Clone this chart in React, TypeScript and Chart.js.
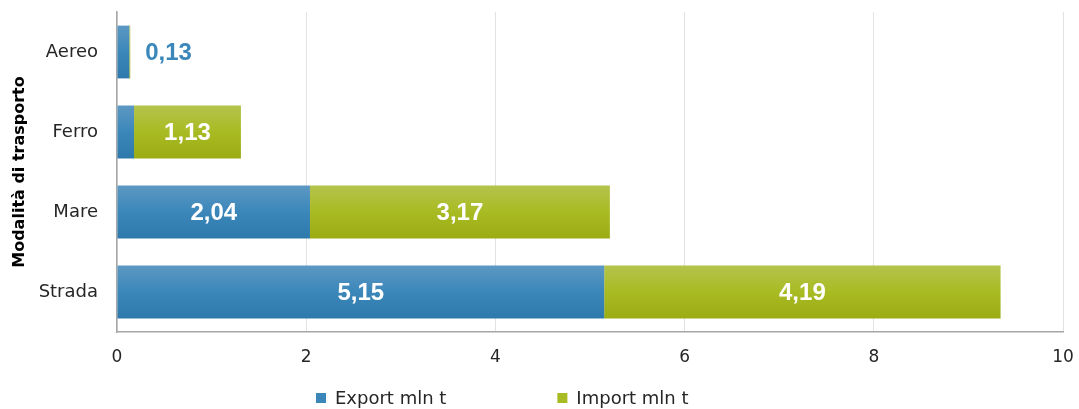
import React, { useEffect, useRef } from "react";
import { Chart, registerables } from "chart.js";

Chart.register(...registerables);

const categories = ["Aereo", "Ferro", "Mare", "Strada"];
const exportValues = [0.13, 0.18, 2.04, 5.15];
const importValues = [0.01, 1.13, 3.17, 4.19];
const seriesLabels = ["Export mln t", "Import mln t"];
const xTicks = [0, 2, 4, 6, 8, 10];
// which labels to show: inside (white) or outside (blue)
const exportLabelMode = ["outside", "none", "inside", "inside"];
const importLabelMode = ["none", "inside", "inside", "inside"];

const FONT = "'DejaVu Sans', sans-serif";
const LABEL_FONT = "'Liberation Sans', Arial, sans-serif";
const blueStops = ["#5c98c3", "#3b87ba", "#2e79ac"];
const greenStops = ["#b4c34c", "#a9bb23", "#9aab14"];
const blueSolid = "#3b87ba";
const greenSolid = "#a9bb23";

const fmt = (v: number) => v.toFixed(2).replace(".", ",");

function gradientFor(stops: string[]) {
  return (ctx: any) => {
    const chart = ctx.chart;
    const y = chart.scales?.y;
    if (!y || ctx.dataIndex === undefined) return stops[1];
    const center = y.getPixelForValue(ctx.dataIndex);
    const half = (y.height / categories.length) * 0.66 / 2;
    if (!isFinite(center) || !isFinite(half) || half <= 0) return stops[1];
    const g = chart.ctx.createLinearGradient(0, center - half, 0, center + half);
    g.addColorStop(0, stops[0]);
    g.addColorStop(0.5, stops[1]);
    g.addColorStop(1, stops[2]);
    return g;
  };
}

const labelPlugin = {
  id: "barLabels",
  afterDatasetsDraw(chart: any) {
    const ctx = chart.ctx;
    const modes = [exportLabelMode, importLabelMode];
    ctx.save();
    ctx.font = `bold 24px ${LABEL_FONT}`;
    ctx.textBaseline = "middle";
    chart.data.datasets.forEach((ds: any, di: number) => {
      const meta = chart.getDatasetMeta(di);
      meta.data.forEach((el: any, i: number) => {
        const mode = modes[di][i];
        const v = ds.data[i];
        if (mode === "inside") {
          ctx.fillStyle = "#ffffff";
          ctx.textAlign = "center";
          ctx.fillText(fmt(v), (el.x + el.base) / 2, el.y + 1);
        } else if (mode === "outside") {
          const meta2 = chart.getDatasetMeta(chart.data.datasets.length - 1);
          const endX = Math.max(el.x, meta2.data[i].x);
          ctx.fillStyle = "#3b87ba";
          ctx.textAlign = "left";
          ctx.fillText(fmt(v), endX + 15, el.y + 1);
        }
      });
    });
    ctx.restore();
  },
};

const legendPlugin = {
  id: "customLegend",
  afterDraw(chart: any) {
    const ctx = chart.ctx;
    ctx.save();
    ctx.font = `18px ${FONT}`;
    ctx.textBaseline = "middle";
    ctx.textAlign = "left";
    const colors = [blueSolid, greenSolid];
    const box = 10;
    const gap = 9;
    const spacing = 111;
    const widths = seriesLabels.map((t) => box + gap + ctx.measureText(t).width);
    const total = widths[0] + spacing + widths[1];
    let x = 316;
    const y = chart.height - 11;
    seriesLabels.forEach((t, i) => {
      ctx.fillStyle = colors[i];
      ctx.fillRect(x, y - box / 2, box, box);
      ctx.fillStyle = "#262626";
      ctx.fillText(t, x + box + gap, y + 1);
      x += widths[i] + spacing;
    });
    ctx.restore();
  },
};

export default function App() {
  const canvasRef = useRef<HTMLCanvasElement | null>(null);

  useEffect(() => {
    if (!canvasRef.current) return;
    const chart = new Chart(canvasRef.current, {
      type: "bar",
      data: {
        labels: categories,
        datasets: [
          {
            label: seriesLabels[0],
            data: exportValues,
            backgroundColor: gradientFor(blueStops),
            borderWidth: 0,
            categoryPercentage: 1,
            barPercentage: 0.66,
          },
          {
            label: seriesLabels[1],
            data: importValues,
            backgroundColor: gradientFor(greenStops),
            borderWidth: 0,
            categoryPercentage: 1,
            barPercentage: 0.66,
          },
        ],
      },
      options: {
        indexAxis: "y",
        responsive: true,
        maintainAspectRatio: false,
        animation: false,
        layout: { padding: { top: 12, right: 16, bottom: 0, left: 0 } },
        plugins: {
          legend: { display: false },
          tooltip: { enabled: false },
        },
        scales: {
          x: {
            stacked: true,
            min: 0,
            max: 10,
            afterBuildTicks: (s: any) => {
              s.ticks = xTicks.map((v) => ({ value: v }));
            },
            afterFit: (s: any) => {
              s.height = 77;
              s.paddingLeft = 0;
              s.paddingRight = 0;
            },
            grid: {
              color: "#e3e3e3",
              drawTicks: false,
            },
            border: { color: "#a6a6a6", width: 1.5 },
            ticks: {
              padding: 15,
              color: "#262626",
              font: { family: FONT, size: 17 },
            },
          },
          y: {
            stacked: true,
            afterFit: (s: any) => {
              s.width = 117;
              s.paddingTop = 0;
              s.paddingBottom = 0;
            },
            grid: { display: false, drawTicks: false },
            border: { color: "#a6a6a6", width: 1.5 },
            ticks: {
              padding: 19,
              color: "#262626",
              font: { family: FONT, size: 18 },
            },
            title: {
              display: true,
              text: "Modalità di trasporto",
              color: "#000000",
              font: { family: FONT, size: 16, weight: "bold" },
              padding: { top: 10, bottom: 0 },
            },
          },
        },
      },
      plugins: [labelPlugin, legendPlugin],
    });
    return () => chart.destroy();
  }, []);

  return (
    <div style={{ position: "fixed", left: 0, top: 0, width: 1079, height: 409, background: "#fff" }}>
      <canvas ref={canvasRef} />
    </div>
  );
}
